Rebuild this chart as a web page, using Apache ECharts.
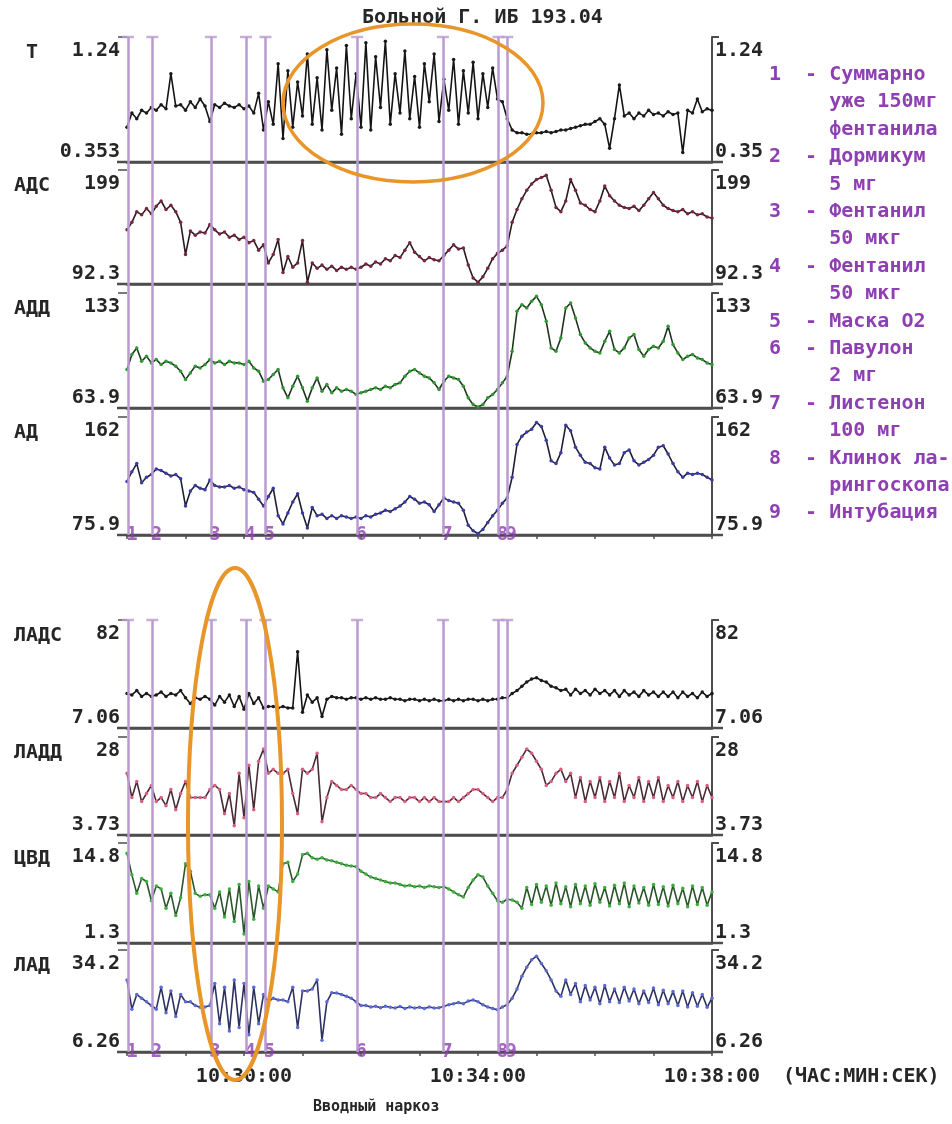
<!DOCTYPE html>
<html>
<head>
<meta charset="utf-8">
<title>Вводный наркоз</title>
<script src="https://cdn.jsdelivr.net/npm/echarts@6/dist/echarts.min.js"></script>
<style>
  html, body { margin: 0; padding: 0; background: #fff; }
  #main { width: 952px; height: 1124px; }
</style>
</head>
<body>
<div id="main"></div>
<script>
// ---- data ----
const startTime = '10:28:00';
const endTime = '10:38:00';
const sampleStep = 5; // seconds between samples
const xLabelTimes = ['10:30:00', '10:34:00', '10:38:00'];

const panelNames = [' T', 'АДС', 'АДД', 'АД', 'ЛАДС', 'ЛАДД', 'ЦВД', 'ЛАД'];
const panelMin = [0.353, 92.3, 63.9, 75.9, 7.06, 3.73, 1.3, 6.26];
const panelMax = [1.24, 199, 133, 162, 82, 28, 14.8, 34.2];
const leftMinText = ['0.353', '92.3', '63.9', '75.9', '7.06', '3.73', '1.3', '6.26'];
const leftMaxText = ['1.24', '199', '133', '162', '82', '28', '14.8', '34.2'];
const rightMinText = ['0.35', '92.3', '63.9', '75.9', '7.06', '3.73', '1.3', '6.26'];
const rightMaxText = ['1.24', '199', '133', '162', '82', '28', '14.8', '34.2'];

const tValues = [
  0.60, 0.70, 0.66, 0.72, 0.70, 0.74, 0.72, 0.76, 0.73, 0.98,
  0.75, 0.76, 0.72, 0.78, 0.74, 0.80, 0.75, 0.64, 0.76, 0.74,
  0.77, 0.75, 0.74, 0.76, 0.73, 0.75, 0.70, 0.84, 0.58, 0.78,
  0.62, 1.05, 0.52, 1.00, 0.60, 0.92, 0.68, 1.12, 0.62, 0.95,
  0.58, 1.15, 0.72, 1.02, 0.55, 1.18, 0.66, 0.98, 0.60, 1.20,
  0.58, 1.10, 0.74, 1.21, 0.62, 0.98, 0.70, 1.14, 0.66, 0.96,
  0.60, 1.05, 0.78, 1.12, 0.64, 0.94, 0.72, 1.08, 0.62, 1.00,
  0.70, 1.06, 0.66, 0.98, 0.74, 1.02, 0.80, 0.78, 0.66, 0.58,
  0.56, 0.56, 0.55, 0.55, 0.56, 0.56, 0.57, 0.56, 0.57, 0.58,
  0.58, 0.59, 0.60, 0.61, 0.62, 0.62, 0.64, 0.66, 0.62, 0.45,
  0.66, 0.90, 0.68, 0.70, 0.66, 0.70, 0.68, 0.72, 0.69, 0.70,
  0.68, 0.71, 0.69, 0.70, 0.42, 0.72, 0.70, 0.80, 0.71, 0.73,
  0.72
];
const adsValues = [
  143, 150, 160, 157, 163, 158, 165, 170, 162, 166,
  160, 150, 120, 142, 138, 141, 140, 148, 143, 139,
  141, 136, 138, 134, 136, 131, 133, 124, 129, 112,
  120, 134, 103, 118, 108, 112, 133, 94, 112, 107,
  110, 106, 109, 105, 108, 106, 108, 106, 108, 111,
  109, 113, 111, 116, 114, 119, 117, 124, 131, 122,
  118, 114, 117, 115, 114, 119, 124, 129, 125, 126,
  110, 98, 94, 99, 107, 116, 121, 124, 128, 150,
  162, 172, 180, 186, 190, 192, 194, 180, 164, 160,
  170, 190, 180, 168, 166, 162, 160, 170, 184, 175,
  170, 166, 164, 163, 165, 161, 166, 172, 178, 172,
  166, 163, 161, 160, 162, 158, 160, 157, 158, 155,
  154
];
const addValues = [
  87, 96, 100, 92, 95, 91, 93, 90, 92, 91,
  89, 86, 81, 85, 89, 88, 90, 93, 91, 92,
  90, 92, 91, 91, 90, 92, 88, 86, 80, 81,
  84, 87, 76, 70, 77, 83, 76, 68, 76, 82,
  74, 78, 73, 76, 74, 75, 74, 72, 73, 74,
  75, 76, 75, 77, 76, 78, 79, 83, 86, 87,
  85, 83, 82, 79, 75, 80, 83, 82, 81, 77,
  70, 66, 64.5, 66, 70, 72, 75, 79, 83, 98,
  122, 126, 124, 128, 131, 126, 116, 100, 98, 106,
  124, 127, 118, 108, 103, 100, 98, 97, 104, 110,
  99, 97, 100, 106, 108, 99, 95, 99, 101, 100,
  104, 113, 102, 97, 93, 95, 96, 94, 93, 91,
  90
];
const adValues = [
  115, 122, 128, 114, 118, 120, 124, 123, 121, 119,
  120, 117, 97, 108, 112, 110, 109, 116, 112, 111,
  111, 112, 110, 111, 109, 108, 107, 102, 97, 104,
  110, 90, 84, 92, 100, 106, 92, 81, 96, 90,
  91, 88, 90, 88, 90, 89, 88, 89, 88, 90,
  89, 91, 92, 94, 93, 95, 97, 100, 104, 102,
  99, 100, 98, 93, 98, 103, 101, 100, 99, 94,
  83, 79, 77, 80, 85, 90, 94, 99, 103, 118,
  142, 148, 151, 153, 158, 155, 145, 130, 128, 136,
  156, 152, 140, 134, 129, 128, 125, 124, 140, 132,
  127, 128, 136, 138, 130, 127, 129, 131, 134, 140,
  141, 135, 128, 122, 118, 121, 120, 121, 120, 118,
  116
];
const ladsValues = [
  31, 30, 33, 29, 31, 29, 30, 32, 29, 31,
  30, 33, 28, 24, 28, 27, 29, 27, 23, 29,
  25, 30, 22, 29, 20, 31, 24, 28, 21, 22,
  22, 21, 22, 21, 21, 60, 18, 30, 25, 28,
  15, 27, 29, 28, 28, 27, 28, 28, 27, 28,
  27, 28, 27, 27, 28, 27, 27, 26, 27, 27,
  26, 27, 26, 27, 26, 26, 27, 26, 27, 26,
  27, 27, 26, 27, 26, 27, 27, 28, 28, 31,
  33, 36, 39, 41, 42, 40, 39, 36, 35, 33,
  34, 30, 34, 31, 33, 30, 34, 31, 33, 30,
  33, 29, 33, 30, 32, 29, 33, 30, 32, 29,
  32, 29, 32, 28, 32, 29, 31, 28, 32, 29,
  31
];
const laddValues = [
  19, 13, 17, 12, 14, 16, 12, 13, 11, 15,
  10, 14, 17, 13, 13, 13, 13, 15, 16, 15,
  9, 14, 6, 19, 8, 21, 10, 22, 25, 19,
  20, 19, 19, 20, 14, 9, 20, 19, 20, 24,
  7, 13, 17, 16, 15, 15, 16, 15, 14, 14,
  13, 13, 14, 13, 12, 13, 13, 12, 13, 13,
  12, 13, 12, 13, 12, 12, 12, 13, 12, 13,
  14, 15, 15, 14, 13, 12, 13, 13, 15, 19,
  21, 23, 25, 24, 22, 20, 16, 17, 19, 20,
  17, 19, 13, 18, 12, 17, 13, 18, 12, 17,
  13, 19, 12, 16, 13, 18, 12, 17, 13, 18,
  12, 16, 13, 17, 12, 16, 13, 17, 12, 16,
  13
];
const cvdValues = [
  13.4, 10.5, 8.0, 10.0, 9.6, 7.0, 9.0, 8.6, 6.0, 8.0,
  5.0, 7.4, 12.0, 11.0, 8.0, 7.6, 7.8, 7.8, 6.0, 8.2,
  4.8, 8.6, 4.2, 9.2, 2.5, 9.6, 4.5, 9.0, 6.0, 9.0,
  8.6, 8.2, 12.0, 12.2, 9.6, 10.6, 13.2, 13.4, 12.8, 12.6,
  12.8, 12.5, 12.4, 12.2, 12.0, 11.8, 11.7, 11.6, 11.0, 10.6,
  10.2, 10.0, 9.8, 9.6, 9.4, 9.4, 9.2, 9.0, 9.1, 8.9,
  9.0, 8.8, 9.0, 8.9, 8.8, 8.9, 8.6, 8.2, 7.8, 7.5,
  8.8, 9.8, 10.5, 10.2, 9.0, 8.0, 7.0, 6.8, 7.2, 7.1,
  6.8, 6.0, 8.8, 6.5, 9.2, 6.8, 9.0, 6.4, 9.4, 6.6,
  8.9, 6.2, 9.2, 6.6, 9.0, 6.4, 9.3, 6.8, 8.8, 6.3,
  9.1, 6.6, 9.4, 6.2, 9.0, 6.7, 8.8, 6.4, 9.2, 6.5,
  8.9, 6.3, 9.1, 6.6, 8.7, 6.2, 9.0, 6.5, 8.8, 6.4,
  8.2
];
const ladValues = [
  26, 18, 22, 21, 20, 19, 18, 24, 17, 23,
  16, 22, 20, 20, 19, 18.5, 18.6, 19, 25, 14,
  24, 12, 26, 13, 25, 11, 24, 14, 22, 20,
  21, 20.5, 20.5, 20, 24, 13, 23, 23, 23.5, 26,
  9.5, 20, 22.5, 22.4, 22, 21.5, 21, 20, 19, 19,
  18.6, 18.8, 18.4, 18.8, 18.5, 18.3, 18.7, 18.2, 18.6, 18.3,
  18.5, 18.2, 18.6, 18.3, 18.4, 18.8, 19.2, 19.5, 19.8, 19.5,
  20.2, 20.5, 20.0, 19.2, 18.6, 18.2, 17.8, 18.6, 19.2, 21,
  23.5, 27, 29.5, 31.5, 32.5, 30.5, 28.5, 26, 23, 21.5,
  26, 22, 25, 20, 24.5, 20.5, 24, 19.5, 24.5, 20,
  23.5, 19.8, 24, 20.2, 23.5, 19.5, 23, 19.8, 23.8, 19.2,
  23.2, 19.5, 22.8, 19, 23, 18.6, 22.5, 18.8, 22, 18.5,
  21
];

const eventTimes = ['10:28:01', '10:28:26', '10:29:26', '10:30:02', '10:30:22',
                    '10:31:56', '10:33:24', '10:34:21', '10:34:30'];
const eventNums = ['1', '2', '3', '4', '5', '6', '7', '8', '9'];
const eventNotes = [
  ['Суммарно', 'уже 150мг', 'фентанила'],
  ['Дормикум', '5 мг'],
  ['Фентанил', '50 мкг'],
  ['Фентанил', '50 мкг'],
  ['Маска O2'],
  ['Павулон', '2 мг'],
  ['Листенон', '100 мг'],
  ['Клинок ла-', 'рингоскопа'],
  ['Интубация']
];

// ---- layout & styles ----
const mono = 'DejaVu Sans Mono';
const textFont = 'bold 20px ' + mono;
const axisGray = '#4d4d4d';
const eventColor = '#b99bd0';
const noteColor = '#8e3fb2';
const panelTop = [37, 170, 293, 417, 620, 737, 843, 950];
const panelHeight = [125, 114, 115, 118, 108, 98, 100, 102];
const groupTop = [37, 620];
const groupHeight = [498, 432];
const plotLeft = 127, plotWidth = 585;
const dotColors = ['#1a1a1a', '#7a2540', '#2f9a2f', '#3b3ba6', '#1a1a1a', '#d9607e', '#3cb03c', '#5b6ad6'];
const lineColors = ['#141414', '#2a1a20', '#1e351e', '#1e1e38', '#141414', '#4a2a34', '#2a552a', '#2c3160'];
const allValues = [tValues, adsValues, addValues, adValues, ladsValues, laddValues, cvdValues, ladValues];

function toSec(s) {
  const p = s.split(':').map(Number);
  return p[0] * 3600 + p[1] * 60 + p[2];
}
function toClock(sec) {
  const h = Math.floor(sec / 3600), m = Math.floor(sec % 3600 / 60), s = sec % 60;
  return [h, m, s].map(n => String(n).padStart(2, '0')).join(':');
}

const t0 = toSec(startTime), t1 = toSec(endTime);
const labelSecs = xLabelTimes.map(toSec);
const eventSecs = eventTimes.map(toSec);

const grids = [], xAxes = [], yAxes = [], series = [];

for (let i = 0; i < 8; i++) {
  grids.push({ left: plotLeft, width: plotWidth, top: panelTop[i], height: panelHeight[i] });
  const groupBottom = (i === 3 || i === 7);
  xAxes.push({
    type: 'value', gridIndex: i, min: t0, max: t1, interval: 60,
    axisLine: { show: true, onZero: false, lineStyle: { color: axisGray, width: 2.5 } },
    axisTick: { show: groupBottom, length: 4, lineStyle: { color: axisGray, width: 1.5 } },
    axisLabel: {
      show: i === 7, interval: 0, margin: 15,
      color: '#262626', fontFamily: mono, fontSize: 20, fontWeight: 'bold',
      formatter: v => labelSecs.indexOf(v) >= 0 ? toClock(v) : ''
    },
    splitLine: { show: false }
  });
  const lo = panelMin[i], hi = panelMax[i];
  const pick = (v, a, b) => Math.abs(v - lo) < 1e-9 ? a : b;
  const labelBase = {
    customValues: [lo, hi],
    verticalAlignMinLabel: 'bottom',
    verticalAlignMaxLabel: 'top',
    padding: [4, 0, 0, 0],
    color: '#262626', fontFamily: mono, fontSize: 20, fontWeight: 'bold'
  };
  yAxes.push({
    type: 'value', gridIndex: i, position: 'left', min: lo, max: hi,
    axisLine: { show: false },
    axisTick: { show: true, customValues: [hi], length: 9, lineStyle: { color: axisGray, width: 1.5 } },
    axisLabel: Object.assign({}, labelBase, { margin: 7, formatter: v => pick(v, leftMinText[i], leftMaxText[i]) }),
    splitLine: { show: false }
  });
  yAxes.push({
    type: 'value', gridIndex: i, position: 'right', min: lo, max: hi,
    axisLine: { show: true, lineStyle: { color: axisGray, width: 2 } },
    axisTick: { show: true, customValues: [hi], length: 7, lineStyle: { color: axisGray, width: 2 } },
    axisLabel: Object.assign({}, labelBase, { margin: 3, formatter: v => pick(v, rightMinText[i], rightMaxText[i]) }),
    splitLine: { show: false }
  });
  series.push({
    type: 'line', xAxisIndex: i, yAxisIndex: 2 * i, z: 3,
    data: allValues[i].map((v, k) => [t0 + k * sampleStep, v]),
    showSymbol: true, symbol: 'circle', symbolSize: 3.5,
    itemStyle: { color: dotColors[i] },
    lineStyle: { color: lineColors[i], width: 1.6 }
  });
}

// overlay grids carrying the event markers through each group of panels
for (let g = 0; g < 2; g++) {
  grids.push({ left: plotLeft, width: plotWidth, top: groupTop[g], height: groupHeight[g] });
  xAxes.push({ type: 'value', gridIndex: 8 + g, min: t0, max: t1, show: false });
  yAxes.push({ type: 'value', gridIndex: 8 + g, min: 0, max: 1, show: false });
  series.push({
    type: 'scatter', xAxisIndex: 8 + g, yAxisIndex: 16 + g, z: 1, clip: false,
    data: eventSecs.map(t => [t, 1]),
    symbol: 'rect', symbolSize: [12, 2.5],
    itemStyle: { color: eventColor },
    markLine: {
      silent: true, symbol: ['none', 'none'],
      lineStyle: { color: eventColor, width: 2.5, type: 'solid' },
      label: { show: false },
      data: eventSecs.map(t => [{ coord: [t, 0] }, { coord: [t, 1] }])
    }
  });
  series.push({
    type: 'scatter', xAxisIndex: 8 + g, yAxisIndex: 16 + g, z: 4, clip: false,
    data: eventSecs.map(t => [t, 0]),
    symbolSize: 1, itemStyle: { color: 'rgba(0,0,0,0)' },
    label: {
      show: true, position: 'inside', offset: [4, 0],
      formatter: p => eventNums[p.dataIndex],
      color: noteColor, fontFamily: mono, fontSize: 19, fontWeight: 'bold'
    }
  });
}

// legend of events on the right
const noteLines = [];
eventNotes.forEach((lines, k) => {
  lines.forEach((txt, j) => noteLines.push((j === 0 ? eventNums[k] + '  - ' : '     ') + txt));
});

const graphics = [
  { type: 'text', style: { text: 'Больной Г. ИБ 193.04', x: 362, y: 18, verticalAlign: 'middle', font: textFont, fill: '#262626' } },
  { type: 'text', style: { text: noteLines.join('\n'), x: 769, y: 61, verticalAlign: 'top', lineHeight: 27.4, font: textFont, fill: noteColor } },
  { type: 'text', style: { text: '(ЧАС:МИН:СЕК)', x: 783, y: 1077, verticalAlign: 'middle', font: textFont, fill: '#262626' } },
  { type: 'text', style: { text: 'Вводный наркоз', x: 313, y: 1107, verticalAlign: 'middle', font: 'bold 15px ' + mono, fill: '#262626' } },
  { type: 'ellipse', z: 100, shape: { cx: 413, cy: 103, rx: 130, ry: 79 }, style: { fill: 'none', stroke: '#e8952a', lineWidth: 3.5 } },
  { type: 'ellipse', z: 100, shape: { cx: 235, cy: 824, rx: 47, ry: 256 }, style: { fill: 'none', stroke: '#e8952a', lineWidth: 4 } }
];
panelNames.forEach((name, i) => {
  graphics.push({ type: 'text', style: { text: name, x: 14, y: panelTop[i] + 16, verticalAlign: 'middle', font: textFont, fill: '#262626' } });
  // separator line runs a little past both axes
  const yb = panelTop[i] + panelHeight[i];
  graphics.push({ type: 'line', z: 0, shape: { x1: 117, y1: yb, x2: 723, y2: yb }, style: { stroke: axisGray, lineWidth: 2.5 } });
});

const chart = echarts.init(document.getElementById('main'));
chart.setOption({
  animation: false,
  backgroundColor: '#fff',
  grid: grids,
  xAxis: xAxes,
  yAxis: yAxes,
  series: series,
  graphic: graphics
});
</script>
</body>
</html>
